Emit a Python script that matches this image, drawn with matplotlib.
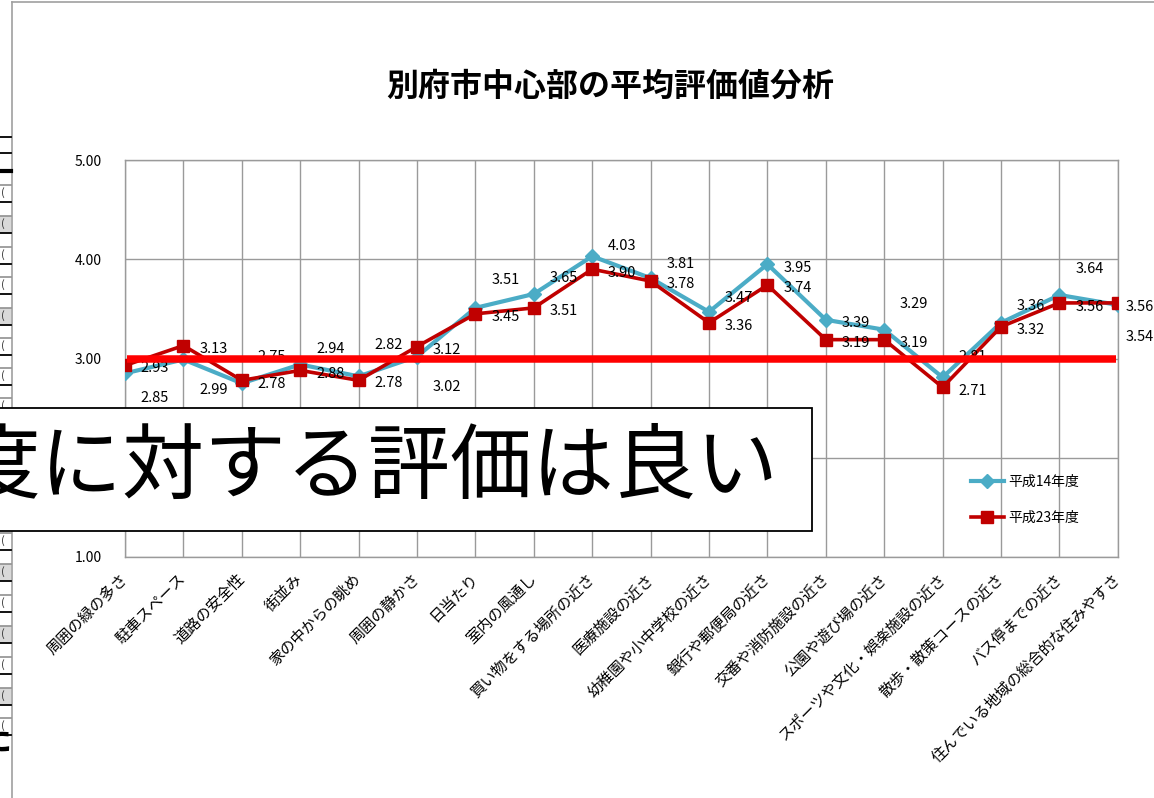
import matplotlib
matplotlib.use("Agg")
import matplotlib.pyplot as plt
from matplotlib.lines import Line2D
from matplotlib.patches import Rectangle

plt.rcParams['font.family'] = ['Noto Sans CJK JP', 'DejaVu Sans']

categories = ["周囲の緑の多さ", "駐車スペース", "道路の安全性", "街並み", "家の中からの眺め",
              "周囲の静かさ", "日当たり", "室内の風通し", "買い物をする場所の近さ", "医療施設の近さ",
              "幼稚園や小中学校の近さ", "銀行や郵便局の近さ", "交番や消防施設の近さ", "公園や遊び場の近さ",
              "スポーツや文化・娯楽施設の近さ", "散歩・散策コースの近さ", "バス停までの近さ",
              "住んでいる地域の総合的な住みやすさ"]
h14 = [2.85, 2.99, 2.75, 2.94, 2.82, 3.02, 3.51, 3.65, 4.03, 3.81, 3.47, 3.95, 3.39, 3.29, 2.81, 3.36, 3.64, 3.54]
h23 = [2.93, 3.13, 2.78, 2.88, 2.78, 3.12, 3.45, 3.51, 3.90, 3.78, 3.36, 3.74, 3.19, 3.19, 2.71, 3.32, 3.56, 3.56]
series_names = ["平成14年度", "平成23年度"]
threshold = 3.0
yticks = [1.0, 2.0, 3.0, 4.0, 5.0]
title = "別府市中心部の平均評価値分析"
overlay_text = "度に対する評価は良い"

# label offsets in pixels (dx right, dy down)
h14_dy = [25, 31, -26, -15, -31, 30, -28, -16, -10, -14, -14, 4, 3, -26, -20, -17, -26, 32]
h23_dy = [3, 3, 4, 4, 3, 3, 3, 3, 4, 3, 3, 3, 3, 3, 4, 3, 4, 4]

W, H = 1154, 798
fig = plt.figure(figsize=(W / 100, H / 100), dpi=100)
fig.patch.set_facecolor('white')

def fx(px):
    return px / W

def fy(py):
    return 1 - py / H

ax = fig.add_axes([fx(125), fy(557), fx(1117.8) - fx(125), fy(160) - fy(557)])
n = len(categories)
xs = list(range(n))

ax.set_xlim(0, n - 1)
ax.set_ylim(1, 5)
ax.set_yticks(yticks)
ax.set_yticklabels([f"{v:.2f}" for v in yticks], fontsize=10)
ax.set_xticks(xs)
ax.set_xticklabels(categories, rotation=45, ha='right', va='center',
                   rotation_mode='anchor', fontsize=11)
ax.tick_params(axis='both', length=0)
ax.tick_params(axis='y', pad=17)
ax.tick_params(axis='x', pad=14)
ax.grid(True, color='#9a9a9a', linewidth=1.0)
for s in ax.spines.values():
    s.set_color('#9a9a9a')
    s.set_linewidth(1.0)
ax.set_axisbelow(True)

c14 = '#4BACC6'
c23 = '#C00000'
ax.plot(xs, h14, color=c14, lw=3, marker='D', markersize=7, label=series_names[0], zorder=3)
ax.plot(xs, h23, color=c23, lw=2.6, marker='s', markersize=9, label=series_names[1], zorder=4)

for i in xs:
    dx = 30 if i < n - 1 else 22
    ax.annotate(f"{h14[i]:.2f}", (i, h14[i]), xytext=(dx, -h14_dy[i]), textcoords='offset pixels',
                ha='center', va='center', fontsize=10.5, zorder=5)
    ax.annotate(f"{h23[i]:.2f}", (i, h23[i]), xytext=(dx, -h23_dy[i]), textcoords='offset pixels',
                ha='center', va='center', fontsize=10.5, zorder=5)

ax.axhline(threshold, xmin=0.002, xmax=0.998, color='#FF0000', lw=5.4, zorder=6,
           solid_capstyle='butt')

leg = ax.legend(loc='upper left', bbox_to_anchor=(fx(958), fy(462)), bbox_transform=fig.transFigure,
                frameon=False, fontsize=10, handlelength=2.4, labelspacing=1.6, handletextpad=0.3)
for t in leg.get_texts():
    t.set_color('#000000')

fig.text(fx(610), fy(87), title, ha='center', va='center', fontsize=23, fontweight='bold')

# outer frame of the chart area
fig.add_artist(Line2D([fx(12), fx(12)], [0, fy(2)], color='#a0a0a0', lw=1.2))
fig.add_artist(Line2D([fx(12), 1], [fy(2), fy(2)], color='#a0a0a0', lw=1.2))

# spreadsheet residue on the far left
for py in [137, 153]:
    fig.add_artist(Line2D([0, fx(11)], [fy(py), fy(py)], color='black', lw=1.3))
fig.add_artist(Line2D([0, fx(11)], [fy(171), fy(171)], color='black', lw=3))
rows = [185, 216, 247, 277, 308, 338, 368, 398, 533, 564, 595, 626, 657, 688, 718]
shaded = [216, 308, 564, 626, 688]
for py in rows:
    if py in shaded:
        fig.add_artist(Rectangle((0, fy(py + 17)), fx(11), fy(py) - fy(py + 17),
                                 facecolor='#d9d9d9', edgecolor='none'))
    fig.add_artist(Line2D([0, fx(11)], [fy(py), fy(py)], color='#909090', lw=1.2))
    fig.add_artist(Line2D([0, fx(11)], [fy(py + 17), fy(py + 17)], color='black', lw=1.3))
    fig.text(fx(1), fy(py + 8), "(", fontsize=8, ha='left', va='center', color='#333333')
fig.text(fx(12), fy(740), "た", fontsize=26, fontweight='bold', ha='right', va='center')

# overlay text box
fig.add_artist(Rectangle((fx(-20), fy(531)), fx(832), fy(408) - fy(531),
                         facecolor='white', edgecolor='black', lw=1.3, zorder=10))
fig.text(fx(778), fy(468), overlay_text, fontsize=59, ha='right', va='center', zorder=11)

fig.savefig("out.png", dpi=100)
